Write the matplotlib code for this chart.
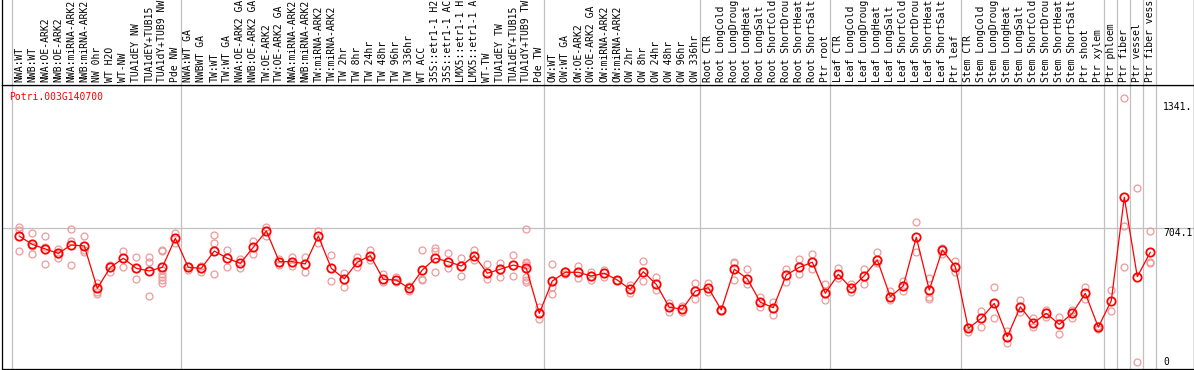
import matplotlib
matplotlib.use("Agg")
import matplotlib.pyplot as plt

gene = "Potri.003G140700"

labels = [
    "NWA:WT", "NWB:WT", "NWA:OE-ARK2", "NWB:OE-ARK2", "NWA:miRNA-ARK2", "NWB:miRNA-ARK2",
    "NW 0hr", "WT H2O", "WT-NW", "TUA1dEY NW", "TUA1dEY+TUB15", "TUA1dY+TUB9 NW", "Pde NW",
    "NWA:WT GA", "NWBWT GA", "TW:WT", "TW:WT GA", "NWA:OE-ARK2 GA", "NWB:OE-ARK2 GA",
    "TW:OE-ARK2", "TW:OE-ARK2 GA", "NWA:miRNA-ARK2", "NWB:miRNA-ARK2", "TW:miRNA-ARK2",
    "TW:miRNA-ARK2", "TW 2hr", "TW 8hr", "TW 24hr", "TW 48hr", "TW 96hr", "TW 336hr",
    "WT ACC", "35S::etr1-1 H2", "35S::etr1-1 AC", "LMX5::etr1-1 H", "LMX5::etr1-1 A",
    "WT-TW", "TUA1dEY TW", "TUA1dEY+TUB15", "TUA1dY+TUB9 TW", "Pde TW",
    "OW:WT", "OW:WT GA", "OW:OE-ARK2", "OW:OE-ARK2 GA", "OW:miRNA-ARK2", "OW:miRNA-ARK2",
    "OW 2hr", "OW 8hr", "OW 24hr", "OW 48hr", "OW 96hr", "OW 336hr",
    "Root CTR", "Root LongCold", "Root LongDroug", "Root LongHeat", "Root LongSalt",
    "Root ShortCold", "Root ShortDrou", "Root ShortHeat", "Root ShortSalt", "Ptr root",
    "Leaf CTR", "Leaf LongCold", "Leaf LongDroug", "Leaf LongHeat", "Leaf LongSalt",
    "Leaf ShortCold", "Leaf ShortDrou", "Leaf ShortHeat", "Leaf ShortSalt", "Ptr leaf",
    "Stem CTR", "Stem LongCold", "Stem LongDroug", "Stem LongHeat", "Stem LongSalt",
    "Stem ShortCold", "Stem ShortDrou", "Stem ShortHeat", "Stem ShortSalt", "Ptr shoot",
    "Ptr xylem", "Ptr phloem", "Ptr fiber", "Ptr vessel", "Ptr fiber vess",
]

# last sample index of each group (-1 = before the first sample)
group_ends = [-1, 12, 40, 52, 62, 72, 83, 84, 85, 86, 87]

means = [
    663, 619, 595, 572, 616, 611, 387, 498, 546, 493, 479, 498, 651,
    498, 493, 584, 546, 519, 604, 690, 528, 528, 516, 663, 493, 437, 525, 560,
    435, 431, 387, 484, 546, 528, 505, 560, 467, 488, 510, 493, 255,
    426, 472, 472, 452, 467, 431, 382, 475, 408, 287, 278, 373,
    390, 273, 488, 438, 314, 285, 458, 498, 525, 361,
    461, 387, 454, 537, 343, 400, 657, 378, 590, 501,
    176, 229, 308, 132, 290, 203, 255, 197, 255, 361, 182,
    322, 868, 449, 577,
]

replicates = [
    [709, 695, 584], [678, 612, 567], [663, 607, 516], [595, 568, 547], [699, 637, 509],
    [663, 581, 590], [414, 356, 370], [510, 475], [584, 501], [551, 435], [551, 528, 348],
    [590, 584, 484, 463, 445, 431, 414], [681, 628],
    [505, 486], [505, 475], [669, 625, 463], [590, 501], [544, 493], [637, 568], [709, 663],
    [540, 510], [553, 505], [551, 472], [690, 628], [563, 426], [470, 396], [553, 498],
    [590, 537], [463, 423], [446, 423], [400, 375], [590, 437, 433], [599, 584, 472],
    [572, 493], [546, 454], [590, 537], [514, 437], [523, 449], [563, 454],
    [699, 528, 519, 510, 449, 431, 422], [287, 224],
    [514, 396, 356], [481, 463], [507, 444], [475, 431], [484, 449], [431], [405, 361],
    [531, 426], [449, 378], [311, 263], [296, 261], [414, 332],
    [414, 369], [273], [528, 519, 431], [491, 410], [343, 290], [317, 246], [491, 419],
    [540, 463], [568, 491], [408, 326],
    [493, 444], [410, 369], [491, 408], [577, 523], [375, 326], [426, 375], [736, 581],
    [440, 343, 331], [602, 568], [531, 475],
    [185, 158], [269, 185], [393, 229], [164, 97], [326, 264], [229, 185], [273, 234],
    [238, 145], [273, 229], [393, 331], [190, 174],
    [378, 268], [1390, 718, 498], [915, 0], [690, 528, 519],
]

right_ticks = [1341.0, 704.1, 0.0]
right_tick_labels = ["1341.", "704.1", "0"]

W, H = 1194, 370
fig = plt.figure(figsize=(W / 100, H / 100), dpi=100)

# pixel geometry
x0_px, dx_px = 19.3, 13.0
left_px, right_px = 1.5, 1193.5
top_px, bot_px = 84.5, 369.0
zero_px, scale = 361.7, 0.18946

xmin = (left_px - x0_px) / dx_px
xmax = (right_px - x0_px) / dx_px
ymax = (zero_px - top_px) / scale
ymin = (zero_px - bot_px) / scale

ax = fig.add_axes([left_px / W, (H - bot_px) / H, (right_px - left_px) / W, (bot_px - top_px) / H])
hpx = top_px + 4.0
hx = fig.add_axes([left_px / W, (H - top_px) / H, (right_px - left_px) / W, hpx / H])

grey = "#c0c0c0"
mono = "DejaVu Sans Mono"
fs = 7.0

for a in (ax, hx):
    a.set_xlim(xmin, xmax)
    a.set_xticks([])
    a.set_yticks([])
    for s in a.spines.values():
        s.set_linewidth(0.9)
        s.set_color("black")
    for g in group_ends:
        a.axvline(g + 0.4, color=grey, lw=0.9, zorder=0)

ax.set_ylim(ymin, ymax)
hx.set_ylim(0, 1)
hx.spines["top"].set_visible(False)

ax.axhline(704.1, color=grey, lw=0.9, zorder=0)

idx = list(range(len(labels)))
for i, reps in enumerate(replicates):
    ax.plot([i] * len(reps), reps, linestyle="none", marker="o", markersize=5.0,
            markerfacecolor="none", markeredgecolor="#ee9a9a", markeredgewidth=0.9, zorder=2)

ax.plot(idx, means, color="#ff0000", lw=0.9, zorder=3)
ax.plot(idx, means, linestyle="none", marker="o", markersize=6.0, markerfacecolor="none",
        markeredgecolor="#ff0000", markeredgewidth=1.3, zorder=4)

# header labels
for i, lab in enumerate(labels):
    hx.text(i, 2.0 / hpx, lab, rotation=90, ha="center", va="bottom",
            fontsize=fs, family=mono, color="black")

ax.text((9.5 - left_px) / (right_px - left_px), (bot_px - 96.7) / (bot_px - top_px), gene,
        transform=ax.transAxes, ha="left", va="center", fontsize=fs, family=mono, color="#ff0000")

tick_px = [106.7, 232.5, 361.7]
for v, lab, ty in zip(right_ticks, right_tick_labels, tick_px):
    ax.text((1163 - left_px) / (right_px - left_px), (bot_px - ty) / (bot_px - top_px), lab,
            transform=ax.transAxes, ha="left", va="center", fontsize=fs, family=mono, color="black")

fig.savefig("out.png", dpi=100)
